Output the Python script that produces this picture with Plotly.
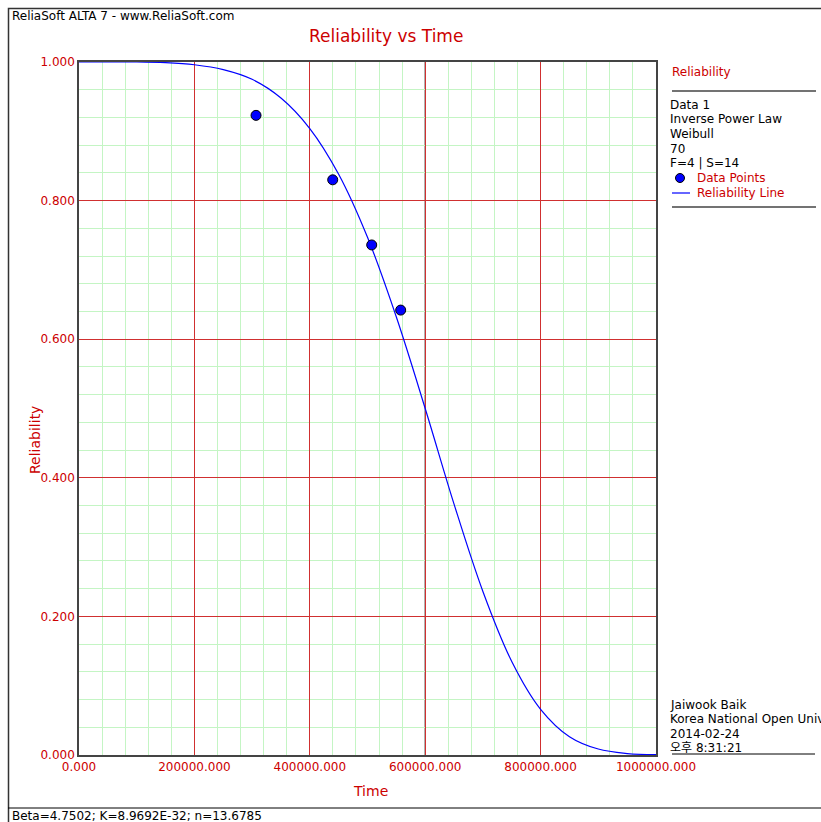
import plotly.graph_objects as go

# ---- data ----
point_time = [306800, 439700, 507300, 557500]
point_rel = [0.923, 0.830, 0.736, 0.642]

curve_time = [0, 50000, 100000, 150000, 200000, 250000, 300000, 350000, 400000,
              450000, 500000, 550000, 600000, 650000, 700000, 750000, 800000,
              850000, 900000, 950000, 1000000]
curve_rel = [1.000, 1.000, 1.000, 0.999, 0.996, 0.989, 0.975, 0.948, 0.904,
             0.838, 0.747, 0.632, 0.500, 0.362, 0.236, 0.135, 0.066,
             0.0265, 0.0086, 0.0021, 0.0004]

x_tick_vals = [0, 200000, 400000, 600000, 800000, 1000000]
x_tick_text = ["0.000", "200000.000", "400000.000", "600000.000", "800000.000", "1000000.000"]
y_tick_vals = [0, 0.2, 0.4, 0.6, 0.8, 1.0]
y_tick_text = ["0.000", "0.200", "0.400", "0.600", "0.800", "1.000"]

legend_info = ["Data 1", "Inverse Power Law", "Weibull", "70", "F=4 | S=14"]
user_info = ["Jaiwook Baik", "Korea National Open University", "2014-02-24", "오후 8:31:21"]
footer_text = "Beta=4.7502; K=8.9692E-32; n=13.6785"
header_text = "ReliaSoft ALTA 7 - www.ReliaSoft.com"

# ---- layout geometry (page pixels; body margin removed) ----
W, H = 821, 822
PL, PT, PW, PH = 79, 62, 577, 693
FONT = "DejaVu Sans, Noto Sans CJK KR, sans-serif"
RED = "#cc0000"


def px(x):
    return (x - PL) / PW


def py(y):
    return (PT + PH - y) / PH


fig = go.Figure()
fig.add_trace(go.Scatter(x=curve_time, y=curve_rel, mode="lines",
                         line=dict(color="#0000ff", width=1.2, shape="spline"),
                         showlegend=False, hoverinfo="skip"))
fig.add_trace(go.Scatter(x=point_time, y=point_rel, mode="markers",
                         marker=dict(color="#0000ff", size=10, line=dict(color="#000000", width=1)),
                         showlegend=False))

shapes = []
# highlighted vertical line at 600000
shapes.append(dict(type="line", xref="x", yref="y", x0=600000, x1=600000, y0=0, y1=1,
                   line=dict(color="#000000", width=1), layer="below"))
# outer frame
shapes.append(dict(type="rect", xref="paper", yref="paper", x0=px(8.5), x1=px(850), y0=py(8.5), y1=py(850),
                   line=dict(color="#333333", width=1.5)))
# footer line
shapes.append(dict(type="line", xref="paper", yref="paper", x0=px(8), x1=px(850), y0=py(808), y1=py(808),
                   line=dict(color="#000000", width=1)))
# legend panel lines
for yy in (91, 207):
    shapes.append(dict(type="line", xref="paper", yref="paper", x0=px(672), x1=px(816), y0=py(yy), y1=py(yy),
                       line=dict(color="#444444", width=1.5)))
shapes.append(dict(type="line", xref="paper", yref="paper", x0=px(672), x1=px(815), y0=py(754), y1=py(754),
                   line=dict(color="#000000", width=1)))
# legend symbols
shapes.append(dict(type="circle", xref="paper", yref="paper", x0=px(675.5), x1=px(684.5), y0=py(173.5), y1=py(182.5),
                   fillcolor="#0000ff", line=dict(color="#000000", width=1)))
shapes.append(dict(type="line", xref="paper", yref="paper", x0=px(672), x1=px(690), y0=py(193), y1=py(193),
                   line=dict(color="#0000ff", width=1.2)))

ann = []


def text(x, y, s, color="#000000", size=12, xanchor="left", **kw):
    ann.append(dict(x=px(x), y=py(y), xref="paper", yref="paper", text=s, showarrow=False,
                    xanchor=xanchor, yanchor="middle", font=dict(family=FONT, size=size, color=color), **kw))


text(10, 16, header_text)
text(386, 36, "Reliability vs Time", color=RED, size=17, xanchor="center")
text(670, 72, "Reliability", color=RED)
for i, s in enumerate(legend_info):
    text(668, 105 + i * 14.5, s)
text(695, 178, "Data Points", color=RED)
text(695, 193, "Reliability Line", color=RED)
for i, s in enumerate(user_info):
    text(668, 705 + i * 14.3, s)
text(10, 816, footer_text)
text(370, 791, "Time", color=RED, size=14, xanchor="center")
text(35, 440, "Reliability", color=RED, size=14, xanchor="center", textangle=-90)

fig.update_layout(
    width=W, height=H,
    margin=dict(l=PL, r=W - PL - PW, t=PT, b=H - PT - PH, pad=0),
    paper_bgcolor="white", plot_bgcolor="white",
    shapes=shapes, annotations=ann,
    font=dict(family=FONT),
    xaxis=dict(range=[0, 1000000], tickvals=x_tick_vals, ticktext=x_tick_text,
               showgrid=True, gridcolor="#d03030", gridwidth=1,
               minor=dict(dtick=40000, showgrid=True, gridcolor="#c4f5c4", gridwidth=1, tick0=0),
               zeroline=False, showline=True, mirror=True, linecolor="#444444", linewidth=1.5,
               ticks="", tickfont=dict(color=RED, size=12, family=FONT)),
    yaxis=dict(range=[0, 1], tickvals=y_tick_vals, ticktext=y_tick_text,
               showgrid=True, gridcolor="#d03030", gridwidth=1,
               minor=dict(dtick=0.04, showgrid=True, gridcolor="#c4f5c4", gridwidth=1, tick0=0),
               zeroline=False, showline=True, mirror=True, linecolor="#444444", linewidth=1.5,
               ticks="", ticklabelstandoff=0, tickfont=dict(color=RED, size=12, family=FONT)),
)

fig.write_html("out.html", config={"displayModeBar": False},
               post_script="document.body.style.margin='0px';document.body.style.overflow='hidden';")
